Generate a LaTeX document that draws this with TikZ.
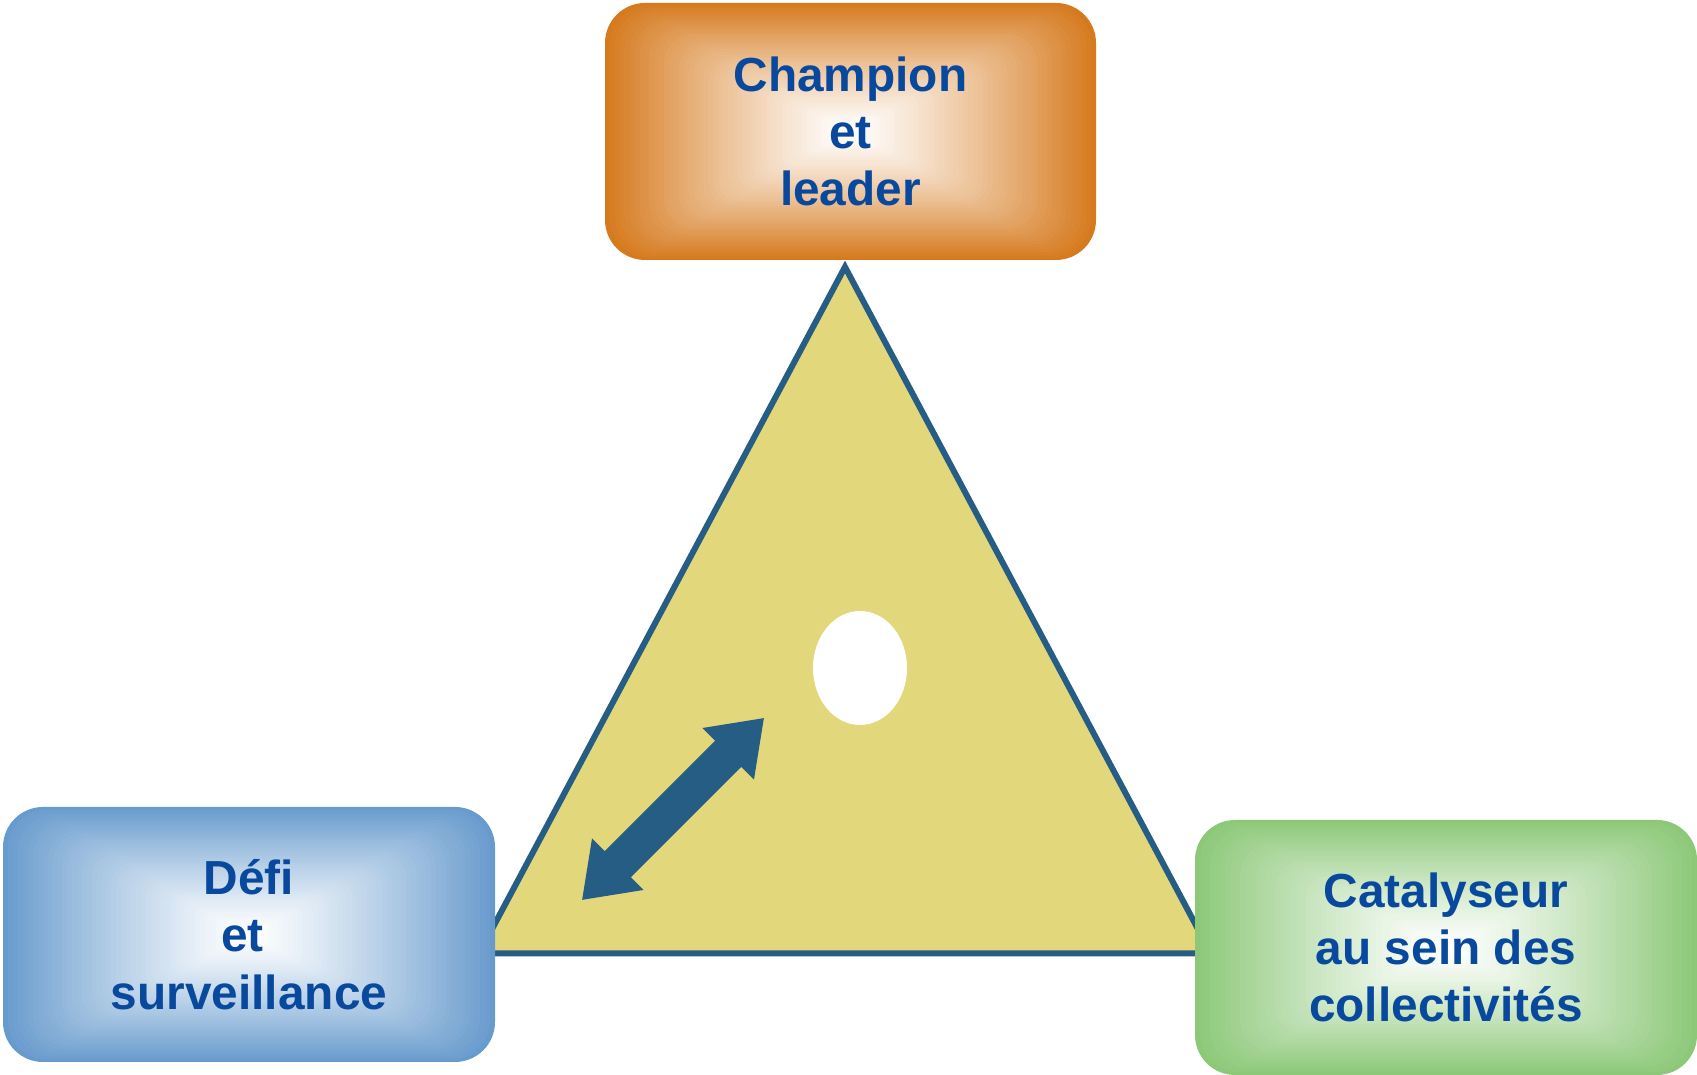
\documentclass[tikz,border=0pt]{standalone}
\usepackage{fontspec}
\setmainfont{Liberation Sans}
\usepackage{tikz}
\usetikzlibrary{shapes}
\definecolor{textblue}{RGB}{8,73,158}
\definecolor{lineblue}{RGB}{37,93,133}
\definecolor{sand}{RGB}{227,215,123}
\definecolor{boxorange}{RGB}{214,122,30}
\definecolor{boxblue}{RGB}{104,155,205}
\definecolor{boxgreen}{RGB}{140,200,120}
\newcommand{\boxround}{0.4}
\newcommand{\steps}{50}
% rounded box fading from colour #4 to white: centre, width, height, colour
\newcommand{\glowbox}[4]{
    \begin{scope}[shift={#1}]
        \foreach \k in {0,...,49} {
            \pgfmathsetmacro{\fac}{1 - \k/\steps}
            \pgfmathtruncatemacro{\mix}{100*\fac^1.2}
            \pgfmathsetmacro{\rr}{\boxround*\fac}
            \pgfmathsetmacro{\hw}{#2*\fac/2}
            \pgfmathsetmacro{\hh}{#3*\fac/2}
            \fill[#4!\mix!white, rounded corners=\rr cm] (-\hw,-\hh) rectangle (\hw,\hh);
        }
    \end{scope}
}

\begin{document}
\begin{tikzpicture}
            %\draw[help lines] (0,0) grid (17,11);
            \tikzset{boxtext/.style = {text=textblue, align=center, inner sep=0pt,
                font=\fontsize{13.6}{16.3}\selectfont\bfseries}}
            \useasboundingbox (0,0) rectangle (16.97,10.75);
            \coordinate (apex) at (8.45,8.08);
            \coordinate (left) at (4.79,1.215);
            \coordinate (right) at (12.11,1.215);
            \draw[lineblue, fill=sand, line width=1.7pt] (apex) -- (left) -- (right) -- cycle;
            \node[ellipse, fill=white, inner sep=0pt, minimum width=0.94cm, minimum height=1.14cm] (hole) at (8.60,4.07) {};
            \begin{scope}[shift={(6.73,2.66)}, rotate=45]
                \fill[lineblue] (1.285,0) -- (0.78,0.365) -- (0.78,0.185) -- (-0.78,0.185)
                    -- (-0.78,0.365) -- (-1.285,0) -- (-0.78,-0.365) -- (-0.78,-0.185)
                    -- (0.78,-0.185) -- (0.78,-0.365) -- cycle;
            \end{scope}
            \glowbox{(8.505,9.435)}{4.91}{2.57}{boxorange}
            \glowbox{(2.49,1.405)}{4.92}{2.55}{boxblue}
            \glowbox{(14.46,1.275)}{5.02}{2.55}{boxgreen}
            \node[boxtext, minimum width=4.91cm, minimum height=2.57cm] (champion) at (8.505,9.435) {Champion\\et\\leader};
            \node[boxtext, minimum width=4.92cm, minimum height=2.55cm] (defi) at (2.49,1.405) {Défi\\et\kern0.278em\\surveillance};
            \node[boxtext, minimum width=5.02cm, minimum height=2.55cm] (catalyseur) at (14.46,1.275) {Catalyseur\\au sein des\\collectivités};
    \end{tikzpicture}
\end{document}
